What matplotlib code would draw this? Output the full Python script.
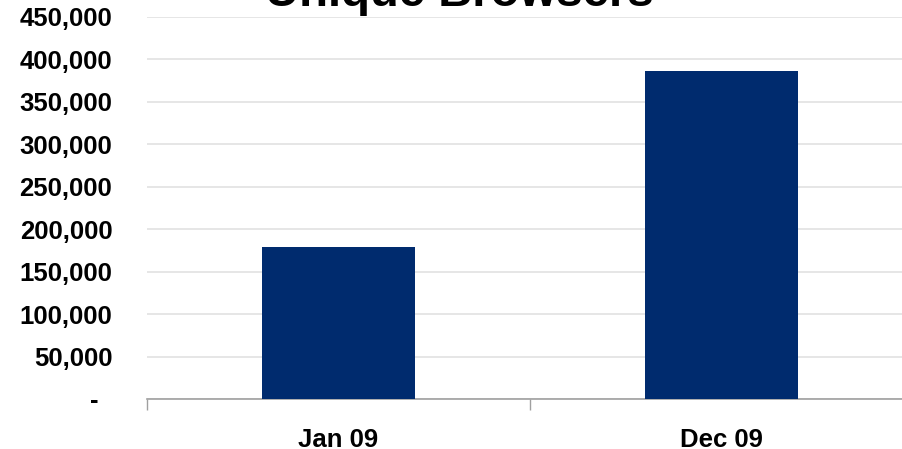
import numpy as np
import matplotlib.pyplot as plt
from matplotlib.ticker import FixedLocator

categories = ['Jan 09', 'Dec 09']
browsers = [179000, 386000]
y_ticks = [0, 50000, 100000, 150000, 200000, 250000, 300000, 350000, 400000, 450000]
y_labels = ['-  ', '50,000', '100,000', '150,000', '200,000', '250,000',
            '300,000', '350,000', '400,000', '450,000']

plt.rcParams['font.family'] = ['Liberation Sans', 'DejaVu Sans']

W, H = 902, 449
fig = plt.figure(figsize=(W / 100, H / 100), dpi=100)
ax = fig.add_axes([147 / W, 1 - 399 / H, 766 / W, 382 / H])

x = np.arange(len(categories))
ax.bar(x, browsers, width=0.4, color='#002b6e', zorder=3)

ax.set_xlim(-0.5, 1.5)
ax.set_ylim(0, 450000)
ax.set_yticks(y_ticks)
ax.set_yticklabels(y_labels, fontsize=18.5, fontweight='bold')
ax.set_xticks(x)
ax.set_xticklabels(categories, fontsize=18.5, fontweight='bold')
ax.tick_params(axis='y', length=0, pad=25)
ax.tick_params(axis='x', which='major', length=0, pad=21)
ax.xaxis.set_minor_locator(FixedLocator([-0.5, 0.5, 1.5]))
ax.tick_params(axis='x', which='minor', length=8, width=1, color='#a0a0a0', direction='out')

ax.grid(axis='y', color='#e2e2e2', lw=1.2, zorder=0)
for s in ['top', 'right', 'left']:
    ax.spines[s].set_visible(False)
ax.spines['bottom'].set_color('#a0a0a0')
ax.spines['bottom'].set_linewidth(1.2)

fig.text(459 / W, 1 - 6 / H, 'Unique Browsers', ha='center', va='baseline',
         fontsize=34, fontweight='bold')

fig.savefig('out.png', dpi=100)
